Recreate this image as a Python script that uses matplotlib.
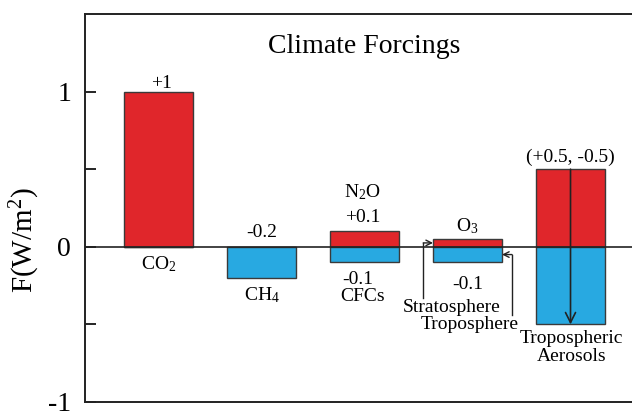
import numpy as np
import matplotlib
matplotlib.use('Agg')
import matplotlib.pyplot as plt

plt.rcParams['font.family'] = ['Liberation Serif', 'DejaVu Serif']
plt.rcParams['mathtext.fontset'] = 'custom'
plt.rcParams['mathtext.rm'] = 'Liberation Serif'
plt.rcParams['mathtext.it'] = 'Liberation Serif:italic'

# --- Data ---
forcings = ['CO2', 'CH4', 'CFCs', 'O3', 'Aerosols']
positive = [1.0, 0.0, 0.1, 0.05, 0.5]
negative = [0.0, -0.2, -0.1, -0.1, -0.5]
ytick_vals = [-1, -0.5, 0, 0.5, 1]
ytick_labels = ['-1', '', '0', '', '1']

red = '#e0262b'
blue = '#28a9e1'
edge = '#3a3a3a'
x = np.arange(len(forcings))

fig = plt.figure(figsize=(6.32, 4.12), dpi=100)
ax = fig.add_axes([0.1345, 0.0243, 0.8655, 0.9417])

ax.bar(x, positive, width=0.67, color=red, edgecolor=edge, linewidth=1.0)
ax.bar(x, negative, width=0.67, color=blue, edgecolor=edge, linewidth=1.0)
ax.axhline(0, color='#222222', linewidth=1.2, zorder=3)

ax.set_xlim(-0.714, 4.597)
ax.set_ylim(-1, 1.5)
ax.set_xticks([])
ax.set_yticks(ytick_vals)
ax.set_yticklabels(ytick_labels, fontsize=20)
ax.tick_params(axis='y', direction='in', length=8, width=1.2, pad=10)
ax.spines['right'].set_visible(False)
for s in ['left', 'top', 'bottom']:
    ax.spines[s].set_linewidth(1.4)
    ax.spines[s].set_color('#222222')

ax.set_ylabel(r'F(W/m$^\mathrm{2}$)', fontsize=21)
ax.yaxis.set_label_coords(-0.078, 0.418)

# --- Annotations ---
fs = 14
ax.text(2.0, 1.29, 'Climate Forcings', fontsize=20, ha='center', va='center')
ax.text(0.03, 1.05, '+1', fontsize=fs, ha='center', va='center')
ax.text(0.0, -0.11, r'CO$_\mathrm{2}$', fontsize=fs, ha='center', va='center')
ax.text(1.0, 0.09, '-0.2', fontsize=fs, ha='center', va='center')
ax.text(1.0, -0.31, r'CH$_\mathrm{4}$', fontsize=fs, ha='center', va='center')
ax.text(1.98, 0.35, r'N$_\mathrm{2}$O', fontsize=fs, ha='center', va='center')
ax.text(1.98, 0.19, '+0.1', fontsize=fs, ha='center', va='center')
ax.text(1.93, -0.21, '-0.1', fontsize=fs, ha='center', va='center')
ax.text(1.98, -0.32, 'CFCs', fontsize=fs, ha='center', va='center')
ax.text(3.0, 0.13, r'O$_\mathrm{3}$', fontsize=fs, ha='center', va='center')
ax.text(3.0, -0.245, '-0.1', fontsize=fs, ha='center', va='center')
ax.text(2.85, -0.39, 'Stratosphere', fontsize=fs, ha='center', va='center')
ax.text(3.02, -0.50, 'Troposphere', fontsize=fs, ha='center', va='center')
ax.text(4.0, 0.574, '(+0.5, -0.5)', fontsize=fs, ha='center', va='center')
ax.text(4.01, -0.59, 'Tropospheric', fontsize=fs, ha='center', va='center')
ax.text(4.01, -0.71, 'Aerosols', fontsize=fs, ha='center', va='center')

# aerosol arrow down through the bar
ax.annotate('', xy=(4, -0.5), xytext=(4, 0.5),
            arrowprops=dict(arrowstyle='->', lw=1.2, color='#222222',
                            shrinkA=0, shrinkB=0, mutation_scale=18))

# O3 pointers
ax.plot([2.57, 2.57], [-0.33, 0.025], color='#222222', lw=1.0)
ax.annotate('', xy=(2.665, 0.025), xytext=(2.57, 0.025),
            arrowprops=dict(arrowstyle='->', lw=1.0, color='#222222',
                            shrinkA=0, shrinkB=0))
ax.plot([3.432, 3.432], [-0.44, -0.05], color='#222222', lw=1.0)
ax.annotate('', xy=(3.335, -0.05), xytext=(3.432, -0.05),
            arrowprops=dict(arrowstyle='->', lw=1.0, color='#222222',
                            shrinkA=0, shrinkB=0))

fig.savefig('out.png', dpi=100)
